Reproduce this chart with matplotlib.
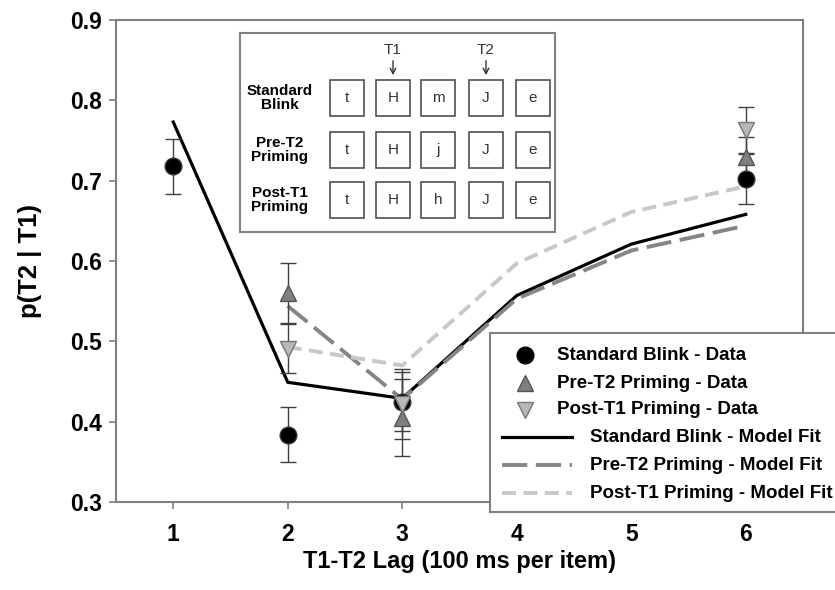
import matplotlib
matplotlib.use("Agg")
import matplotlib.pyplot as plt
from matplotlib.patches import Rectangle
from matplotlib.lines import Line2D

plt.rcParams['font.family'] = ['Liberation Sans', 'DejaVu Sans']

# observed data (lag, mean, error)
std_lag = [1, 2, 3, 6]
std_val = [0.718, 0.384, 0.425, 0.702]
std_err = [0.034, 0.034, 0.037, 0.031]

pre_lag = [2, 3, 6]
pre_val = [0.560, 0.405, 0.729]
pre_err = [0.037, 0.048, 0.025]

post_lag = [2, 3, 6]
post_val = [0.491, 0.422, 0.763]
post_err = [0.030, 0.043, 0.029]

# model fits
fit_std_lag = [1, 2, 3, 4, 5, 6]
fit_std = [0.773, 0.449, 0.429, 0.557, 0.621, 0.658]
fit_pre_lag = [2, 3, 4, 5, 6]
fit_pre = [0.544, 0.428, 0.553, 0.613, 0.644]
fit_post_lag = [2, 3, 4, 5, 6]
fit_post = [0.493, 0.470, 0.597, 0.661, 0.693]

legend_labels = ["Standard Blink - Data", "Pre-T2 Priming - Data",
                 "Post-T1 Priming - Data", "Standard Blink - Model Fit",
                 "Pre-T2 Priming - Model Fit", "Post-T1 Priming - Model Fit"]

row_labels = ["Standard\nBlink", "Pre-T2\nPriming", "Post-T1\nPriming"]
row_letters = [["t", "H", "m", "J", "e"],
               ["t", "H", "j", "J", "e"],
               ["t", "H", "h", "J", "e"]]

c_pre, c_post = "#7f7f7f", "#b8b8b8"
c_pre_line, c_post_line = "#858585", "#c8c8c8"
spine_c = "#808080"

fig = plt.figure(figsize=(8.35, 5.9), dpi=100)
ax = fig.add_axes([116 / 835, 88 / 590, 687 / 835, 482 / 590])

ax.plot(fit_std_lag, fit_std, color="black", lw=2.3, zorder=3)
ax.plot(fit_pre_lag, fit_pre, color=c_pre_line, lw=2.8, dashes=(6.5, 2.2), zorder=3)
ax.plot(fit_post_lag, fit_post, color=c_post_line, lw=2.8, dashes=(3.6, 1.9), zorder=3)

eb = dict(ls="none", ecolor="#404040", elinewidth=1, capsize=6, capthick=1, zorder=4)
ax.errorbar(std_lag, std_val, yerr=std_err, marker="o", ms=12, mfc="black",
            mec="#333333", **eb)
ax.errorbar(pre_lag, pre_val, yerr=pre_err, marker="^", ms=12, mfc=c_pre,
            mec="#555555", **eb)
ax.errorbar(post_lag, post_val, yerr=post_err, marker="v", ms=12, mfc=c_post,
            mec="#777777", **eb)

ax.set_xlim(0.5, 6.5)
ax.set_ylim(0.3, 0.9)
ax.set_xticks([1, 2, 3, 4, 5, 6])
ax.set_yticks([0.3, 0.4, 0.5, 0.6, 0.7, 0.8, 0.9])
ax.set_yticklabels(["0.3", "0.4", "0.5", "0.6", "0.7", "0.8", "0.9"])
for s in ax.spines.values():
    s.set_color(spine_c)
    s.set_linewidth(1.5)
ax.tick_params(direction="out", length=5, width=1.2, color=spine_c,
               labelsize=16.5)
ax.tick_params(axis="x", pad=10)
ax.tick_params(axis="y", pad=5)
for lab in ax.get_xticklabels() + ax.get_yticklabels():
    lab.set_fontweight("bold")
ax.set_xlabel("T1-T2 Lag (100 ms per item)", fontsize=17, fontweight="bold", labelpad=3)
ax.set_ylabel("p(T2 | T1)", fontsize=18.5, fontweight="bold", labelpad=20)

# inset showing the RSVP streams
ins = fig.add_axes([240 / 835, 1 - 232 / 590, 315 / 835, 199 / 590])
ins.set_xlim(0, 315)
ins.set_ylim(199, 0)
ins.set_xticks([])
ins.set_yticks([])
for s in ins.spines.values():
    s.set_color(spine_c)
    s.set_linewidth(1.5)
box_x = [107, 153, 198, 246, 293]
row_y = [65, 117, 167]
for r in range(3):
    ins.text(40, row_y[r], row_labels[r], ha="center", va="center",
             fontsize=11, fontweight="bold", linespacing=1.05)
    for i in range(5):
        ins.add_patch(Rectangle((box_x[i] - 17, row_y[r] - 18), 34, 36,
                                fill=False, ec="#505050", lw=1.2))
        ins.text(box_x[i], row_y[r], row_letters[r][i], ha="center",
                 va="center", fontsize=11, color="#333333")
for i, name in [(1, "T1"), (3, "T2")]:
    ins.text(box_x[i], 17, name, ha="center", va="center", fontsize=11,
             color="#333333")
    ins.annotate("", xy=(box_x[i], 45), xytext=(box_x[i], 25),
                 arrowprops=dict(arrowstyle="->", color="#333333", lw=1))

# legend box in the style of the original
lg = fig.add_axes([490 / 835, 78 / 590, 360 / 835, 179 / 590])
lg.set_xlim(0, 360)
lg.set_ylim(179, 0)
lg.set_xticks([])
lg.set_yticks([])
for s in lg.spines.values():
    s.set_color(spine_c)
    s.set_linewidth(1.5)
leg_y = [22, 50, 77, 104, 132, 160]
lg.plot([35], [leg_y[0]], marker="o", ms=12, color="black")
lg.plot([35], [leg_y[1]], marker="^", ms=12, mfc=c_pre, mec="#555555")
lg.plot([35], [leg_y[2]], marker="v", ms=12, mfc=c_post, mec="#777777")
lg.add_line(Line2D([12, 82], [leg_y[3]] * 2, color="black", lw=2.3))
lg.add_line(Line2D([12, 82], [leg_y[4]] * 2, color=c_pre_line, lw=2.8, dashes=(6.5, 2.2)))
lg.add_line(Line2D([12, 82], [leg_y[5]] * 2, color=c_post_line, lw=2.8, dashes=(3.6, 1.9)))
for k, txt in enumerate(legend_labels):
    lg.text(67 if k < 3 else 100, leg_y[k], txt, ha="left", va="center",
            fontsize=13.5, fontweight="bold")

fig.savefig("out.png", dpi=100)
